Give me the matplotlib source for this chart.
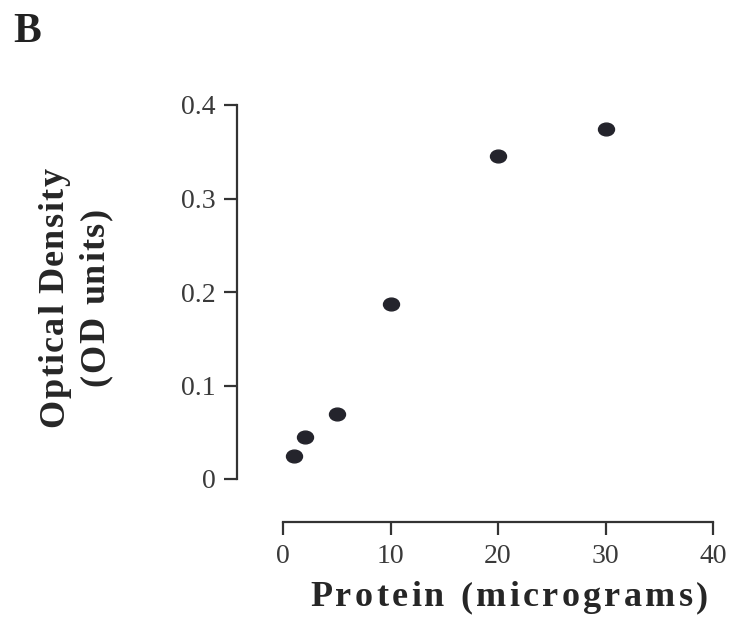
import matplotlib
matplotlib.use("Agg")
import matplotlib.pyplot as plt
from matplotlib.font_manager import FontProperties
from matplotlib.path import Path
from matplotlib.transforms import Affine2D

# protein standard curve, panel B
protein = [1, 2, 5, 10, 20, 30]
od = [0.025, 0.045, 0.07, 0.187, 0.345, 0.374]
xticks = [0, 10, 20, 30, 40]
yticks = [0, 0.1, 0.2, 0.3, 0.4]
ytick_labels = ["0", "0.1", "0.2", "0.3", "0.4"]

W, H = 731, 626
fig = plt.figure(figsize=(W / 100, H / 100), dpi=100)
ax = fig.add_axes([283 / W, 1 - 479 / H, 430 / W, 374 / H])

# slightly flattened dots like the scanned figure
dot = Path.unit_circle().transformed(Affine2D().scale(1, 0.8))
ax.plot(protein, od, linestyle="none", marker=dot, ms=11.5,
        color="#24242c", mec="#24242c")

ax.set_xlim(0, 40)
ax.set_ylim(0, 0.4)
ax.set_xticks(xticks)
ax.set_yticks(yticks)
ax.set_yticklabels(ytick_labels)

for side in ["top", "right"]:
    ax.spines[side].set_visible(False)
ax.spines["left"].set_position(("outward", 46 * 0.72))
ax.spines["bottom"].set_position(("outward", 43 * 0.72))
for side in ["left", "bottom"]:
    ax.spines[side].set_linewidth(1.6)
    ax.spines[side].set_color("#333333")

tick_font = FontProperties(family="Liberation Serif", size=20)
ax.tick_params(axis="both", direction="out", length=9.5, width=1.6,
               color="#333333", labelcolor="#3a3a3a", pad=6)
for lab in ax.get_xticklabels() + ax.get_yticklabels():
    lab.set_fontproperties(tick_font)

renderer = fig.canvas.get_renderer()


def advance(ch, fp):
    w1 = renderer.get_text_width_height_descent("x" + ch + "x", fp, ismath=False)[0]
    w0 = renderer.get_text_width_height_descent("xx", fp, ismath=False)[0]
    return w1 - w0


def tracked(s, cx, cy, target, fp, vertical=False, color="#262626"):
    # draw a letter-spaced string centred on (cx, cy) pixels, spread to target width
    widths = [advance(ch, fp) for ch in s]
    track = (target - sum(widths)) / (len(s) - 1)
    pos = -target / 2
    for ch, w in zip(s, widths):
        if vertical:
            x, y, rot = cx, cy + pos, 90
        else:
            x, y, rot = cx + pos, cy, 0
        fig.text(x / W, y / H, ch, fontproperties=fp, color=color,
                 rotation=rot, rotation_mode="anchor", ha="left", va="baseline")
        pos += w + track


label_font = FontProperties(family="Liberation Serif", weight="bold", size=26)
tracked("Protein (micrograms)", 509, H - 606, 398, label_font)
tracked("Optical Density", 63, H - 297.5, 259, label_font, vertical=True)
tracked("(OD units)", 104, H - 297, 178, label_font, vertical=True)

fig.text(13 / W, 1 - 42 / H, "B", fontproperties=FontProperties(
    family="Liberation Serif", weight="bold", size=30), color="#222222",
    ha="left", va="baseline")

fig.savefig("out.png", dpi=100)
